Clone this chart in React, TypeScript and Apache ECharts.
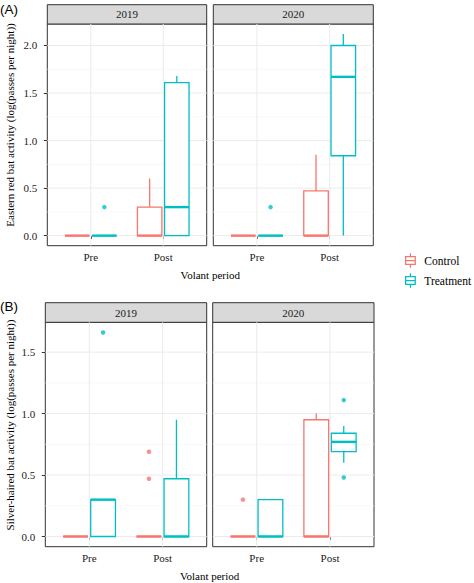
import React, { useEffect, useRef } from "react";
import * as echarts from "echarts";

// ---------- data ----------
const years = ["2019", "2020"];
const periods = ["Pre", "Post"];
const groups = ["Control", "Treatment"];
const groupColors = ["#F8766D", "#00BFC4"];

// five-number summaries [min, q1, median, q3, max], one row per period (Pre, Post)
// Panel A: Eastern red bat
const redControl2019 = [[0, 0, 0, 0, 0], [0, 0, 0, 0.30, 0.60]];
const redTreatment2019 = [[0, 0, 0, 0, 0], [0, 0, 0.30, 1.61, 1.68]];
const redControl2020 = [[0, 0, 0, 0, 0], [0, 0, 0, 0.47, 0.85]];
const redTreatment2020 = [[0, 0, 0, 0, 0], [0, 0.84, 1.67, 2.0, 2.12]];
// outliers [period, value]
const redOutControl2019: [string, number][] = [];
const redOutTreatment2019: [string, number][] = [["Pre", 0.30]];
const redOutControl2020: [string, number][] = [];
const redOutTreatment2020: [string, number][] = [["Pre", 0.30]];

// Panel B: Silver-haired bat
const silverControl2019 = [[0, 0, 0, 0, 0], [0, 0, 0, 0, 0]];
const silverTreatment2019 = [[0, 0, 0.30, 0.30, 0.30], [0, 0, 0, 0.47, 0.95]];
const silverControl2020 = [[0, 0, 0, 0, 0], [0, 0, 0, 0.95, 1.0]];
const silverTreatment2020 = [[0, 0, 0, 0.30, 0.30], [0.60, 0.69, 0.77, 0.84, 0.90]];
const silverOutControl2019: [string, number][] = [["Post", 0.69], ["Post", 0.47]];
const silverOutTreatment2019: [string, number][] = [["Pre", 1.66]];
const silverOutControl2020: [string, number][] = [["Pre", 0.30]];
const silverOutTreatment2020: [string, number][] = [["Post", 1.11], ["Post", 0.48]];

const yMajorA = [0, 0.5, 1, 1.5, 2];
const yMinorA = [0.25, 0.75, 1.25, 1.75];
const yMajorB = [0, 0.5, 1, 1.5];
const yMinorB = [0.25, 0.75, 1.25];

const tags = ["(A)", "(B)"];
const yTitles = [
  "Eastern red bat activity (log(passes per night))",
  "Silver-haired bat activity (log(passes per night))",
];
const xTitle = "Volant period";

// ---------- layout / style ----------
const SERIF = "'Liberation Serif', 'Times New Roman', serif";
const SANS = "'Liberation Sans', Arial, sans-serif";
const rows = [
  { top: 24, height: 221.7, stripTop: 4.7, lefts: [47.3, 213.3], widths: [159.4, 160], titleY: 125, xTitleY: 275, tagY: 9 },
  { top: 322.3, height: 224.4, stripTop: 302.7, lefts: [45.3, 212.7], widths: [161.4, 161.3], titleY: 425, xTitleY: 576, tagY: 306 },
];
const dodge = 0.75;
const boxWidth = 0.3375;
const groupOffsets = [-dodge / 4, dodge / 4];

const panels = [
  {
    stats: [[redControl2019, redTreatment2019], [redControl2020, redTreatment2020]],
    outliers: [[redOutControl2019, redOutTreatment2019], [redOutControl2020, redOutTreatment2020]],
    yMajor: yMajorA, yMinor: yMinorA,
  },
  {
    stats: [[silverControl2019, silverTreatment2019], [silverControl2020, silverTreatment2020]],
    outliers: [[silverOutControl2019, silverOutTreatment2019], [silverOutControl2020, silverOutTreatment2020]],
    yMajor: yMajorB, yMinor: yMinorB,
  },
];

const boxIcon =
  "path://M0 3H12V13H0Z M1.4 4.4V7.3H10.6V4.4Z M1.4 8.7V11.6H10.6V8.7Z M5.3 0H6.7V3H5.3Z M5.3 13H6.7V16H5.3Z";

function makeBoxRender(offset: number, color: string) {
  return (params: any, api: any) => {
    const x = api.value(0) + offset;
    const mn = api.value(1), q1 = api.value(2), md = api.value(3), q3 = api.value(4), mx = api.value(5);
    const h = boxWidth / 2;
    const pTL = api.coord([x - h, q3]);
    const pBR = api.coord([x + h, q1]);
    const pMin = api.coord([x, mn]);
    const pMax = api.coord([x, mx]);
    const pQ1 = api.coord([x, q1]);
    const pQ3 = api.coord([x, q3]);
    const pMdL = api.coord([x - h, md]);
    const pMdR = api.coord([x + h, md]);
    const lw = 1.3;
    return {
      type: "group",
      children: [
        { type: "line", shape: { x1: pQ3[0], y1: pQ3[1], x2: pMax[0], y2: pMax[1] }, style: { stroke: color, lineWidth: lw } },
        { type: "line", shape: { x1: pQ1[0], y1: pQ1[1], x2: pMin[0], y2: pMin[1] }, style: { stroke: color, lineWidth: lw } },
        {
          type: "rect",
          shape: { x: pTL[0], y: pTL[1], width: pBR[0] - pTL[0], height: pBR[1] - pTL[1] },
          style: { fill: "#fff", stroke: color, lineWidth: lw },
        },
        { type: "line", shape: { x1: pMdL[0], y1: pMdL[1], x2: pMdR[0], y2: pMdR[1] }, style: { stroke: color, lineWidth: 2.4 } },
      ],
    };
  };
}

function hGridRender(params: any, api: any) {
  const cs = params.coordSys;
  const y = api.coord([1, api.value(1)])[1];
  const major = api.value(2) === 1;
  return {
    type: "line",
    shape: { x1: cs.x, y1: y, x2: cs.x + cs.width, y2: y },
    style: { stroke: major ? "#EBEBEB" : "#F5F5F5", lineWidth: major ? 1 : 0.7 },
  };
}
function vGridRender(params: any, api: any) {
  const cs = params.coordSys;
  const x = api.coord([api.value(0), 0])[0];
  return {
    type: "line",
    shape: { x1: x, y1: cs.y, x2: x, y2: cs.y + cs.height },
    style: { stroke: "#EBEBEB", lineWidth: 1 },
  };
}

function buildOption() {
  const grid: any[] = [];
  const xAxis: any[] = [];
  const yAxis: any[] = [];
  const series: any[] = [];
  const graphic: any[] = [];

  panels.forEach((panel, r) => {
    const row = rows[r];
    const all: number[] = [];
    panel.stats.forEach((ys) => ys.forEach((g) => g.forEach((s) => all.push(...s))));
    panel.outliers.forEach((ys) => ys.forEach((g) => g.forEach((o) => all.push(o[1]))));
    const lo = Math.min(...all), hi = Math.max(...all);
    const ymin = lo - 0.05 * (hi - lo);
    const ymax = hi + 0.05 * (hi - lo);

    years.forEach((year, c) => {
      const gi = grid.length;
      grid.push({
        left: row.lefts[c], top: row.top, width: row.widths[c], height: row.height,
        show: true, borderColor: "#333", borderWidth: 1, backgroundColor: "#fff",
        containLabel: false, outerBoundsMode: "none",
      });
      xAxis.push({
        type: "value", gridIndex: gi, min: 0.4, max: 2.6,
        axisLine: { show: false },
        splitLine: { show: false },
        axisTick: { show: true, customValues: [1, 2], length: 3.5, lineStyle: { color: "#333" } },
        axisLabel: {
          customValues: [1, 2], margin: 6,
          formatter: (v: number) => periods[Math.round(v) - 1],
          fontFamily: SERIF, fontSize: 11, color: "#222",
        },
      });
      yAxis.push({
        type: "value", gridIndex: gi, min: ymin, max: ymax,
        axisLine: { show: false },
        splitLine: { show: false },
        axisTick: { show: c === 0, customValues: panel.yMajor, length: 3.5, lineStyle: { color: "#333" } },
        axisLabel: {
          show: c === 0, customValues: panel.yMajor, margin: 10,
          formatter: (v: number) => v.toFixed(1),
          fontFamily: SERIF, fontSize: 11, color: "#222",
        },
      });
      series.push({
        type: "custom", name: "hgrid", xAxisIndex: gi, yAxisIndex: gi, z: 1, silent: true,
        renderItem: hGridRender, encode: { x: 0, y: 1 },
        data: [...panel.yMajor.map((v) => [1, v, 1]), ...panel.yMinor.map((v) => [1, v, 0])],
      });
      series.push({
        type: "custom", name: "vgrid", xAxisIndex: gi, yAxisIndex: gi, z: 1, silent: true,
        renderItem: vGridRender, encode: { x: 0, y: 1 },
        data: periods.map((_, i) => [i + 1, 0]),
      });
      groups.forEach((g, k) => {
        series.push({
          type: "custom", name: g, xAxisIndex: gi, yAxisIndex: gi, z: 2,
          itemStyle: { color: groupColors[k] },
          renderItem: makeBoxRender(groupOffsets[k], groupColors[k]),
          encode: { x: 0, y: [1, 2, 3, 4, 5] },
          data: panel.stats[c][k].map((s, i) => [i + 1, ...s]),
        });
        series.push({
          type: "scatter", name: g + " outliers", xAxisIndex: gi, yAxisIndex: gi, z: 3,
          symbolSize: 4.5, itemStyle: { color: groupColors[k] },
          data: panel.outliers[c][k].map((o) => [periods.indexOf(o[0]) + 1 + groupOffsets[k], o[1]]),
        });
      });
      // strip
      graphic.push({
        type: "rect",
        shape: { x: row.lefts[c], y: row.stripTop, width: row.widths[c], height: row.top - row.stripTop },
        style: { fill: "#D9D9D9", stroke: "#333", lineWidth: 1 },
      });
      graphic.push({
        type: "text",
        x: row.lefts[c] + row.widths[c] / 2, y: (row.stripTop + row.top) / 2,
        style: { text: year, font: "11px " + SERIF, fill: "#1a1a1a", textAlign: "center", textVerticalAlign: "middle" },
      });
    });

    const leftEdge = row.lefts[0];
    const rightEdge = row.lefts[1] + row.widths[1];
    graphic.push({
      type: "text", x: (leftEdge + rightEdge) / 2, y: row.xTitleY,
      style: { text: xTitle, font: "11px " + SERIF, fill: "#000", textAlign: "center", textVerticalAlign: "middle" },
    });
    graphic.push({
      type: "text", x: 10, y: row.titleY, rotation: Math.PI / 2,
      style: { text: yTitles[r], font: "11px " + SERIF, fill: "#000", textAlign: "center", textVerticalAlign: "middle" },
    });
    graphic.push({
      type: "text", x: 0, y: row.tagY,
      style: { text: tags[r], font: "13.5px " + SANS, fill: "#000", textAlign: "left", textVerticalAlign: "middle" },
    });
  });

  return {
    animation: false,
    backgroundColor: "#fff",
    grid, xAxis, yAxis, series, graphic,
    legend: {
      orient: "vertical", left: 405, top: 253.3, padding: 0,
      itemWidth: 11.7, itemHeight: 14.5, itemGap: 5.5, selectedMode: false,
      data: groups.map((g) => ({ name: g, icon: boxIcon })),
      textStyle: { fontFamily: SERIF, fontSize: 11.5, color: "#000", padding: [0, 0, 0, 3] },
    },
  };
}

export default function App() {
  const ref = useRef<HTMLDivElement>(null);
  useEffect(() => {
    if (!ref.current) return;
    const chart = echarts.init(ref.current, undefined, { renderer: "svg" });
    chart.setOption(buildOption() as any);
    return () => chart.dispose();
  }, []);
  return <div ref={ref} style={{ position: "absolute", left: 0, top: 0, width: 474, height: 583 }} />;
}
